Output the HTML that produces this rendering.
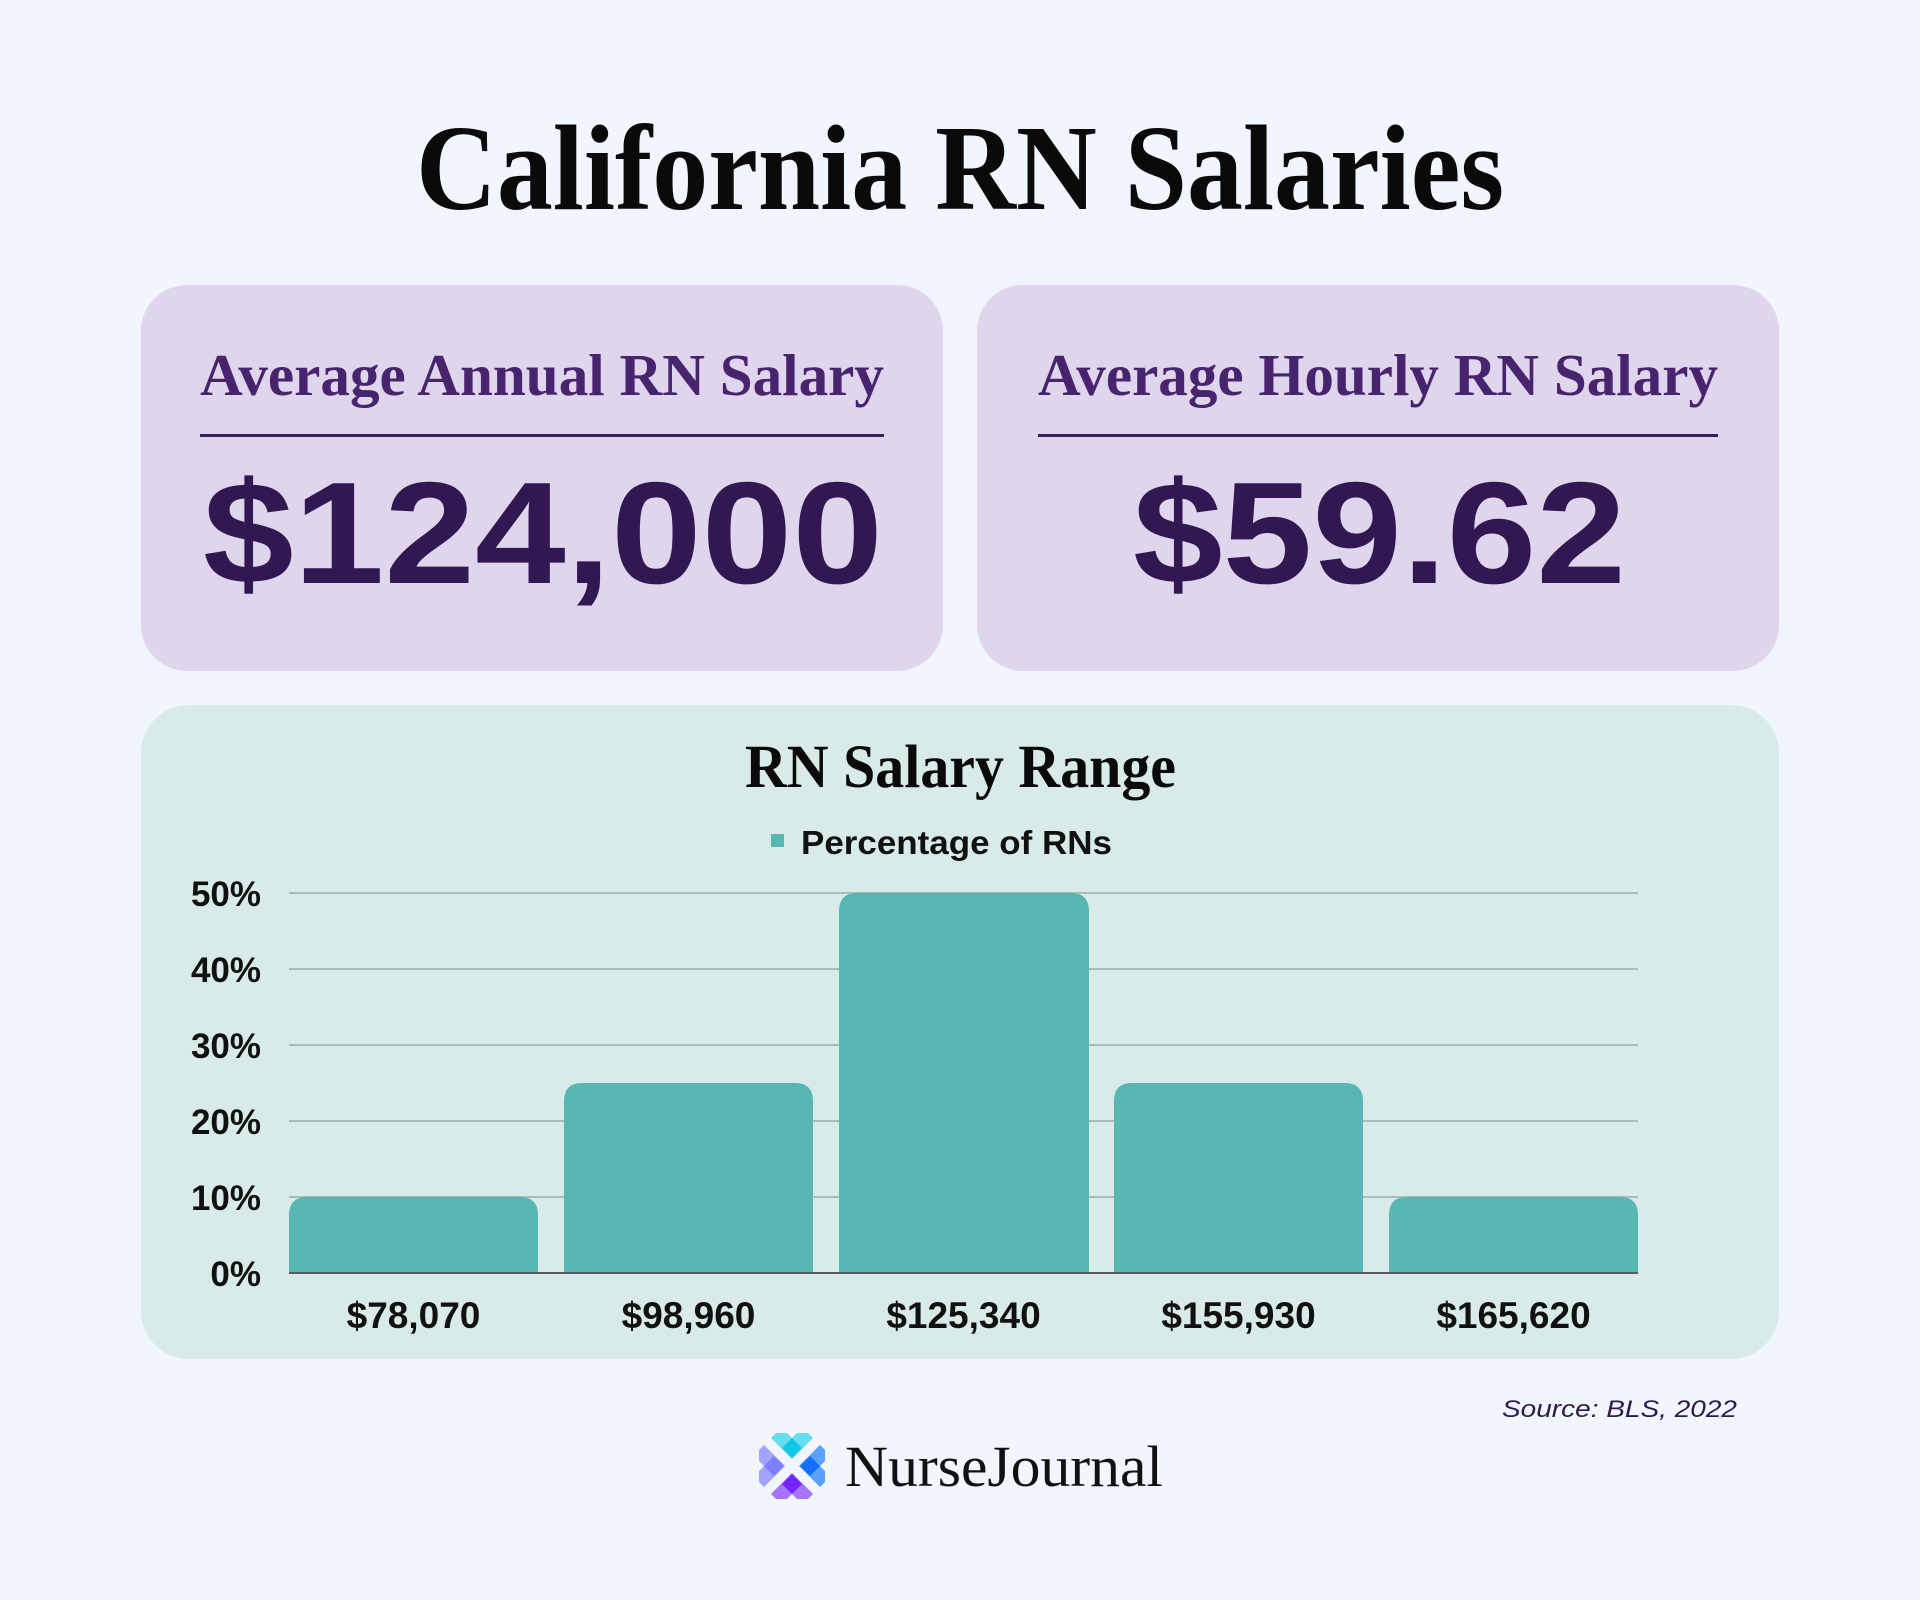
<!DOCTYPE html>
<html>
<head>
<meta charset="utf-8">
<style>
  html, body { margin: 0; padding: 0; background: #F1F5FD; }
  body { width: 1920px; height: 1600px; overflow: hidden; }
  svg { display: block; }
</style>
</head>
<body>
<svg width="1920" height="1600" viewBox="0 0 1920 1600" xmlns="http://www.w3.org/2000/svg">
  <defs>
    <g id="lobeShape">
      <polygon points="-21,-28 -16,-33 -5,-33 0,-28 5,-33 16,-33 21,-28 0,-7" stroke-linejoin="round"/>
    </g>
  </defs>
  <rect x="0" y="0" width="1920" height="1600" fill="#F1F5FD"/>

  <!-- Title -->
  <text x="416" y="209" font-family="'Liberation Serif', serif" font-weight="bold" font-size="122" fill="#0A0A0A" textLength="1088" lengthAdjust="spacingAndGlyphs">California RN Salaries</text>

  <!-- Card 1 -->
  <rect x="141" y="285" width="802" height="386" rx="46" ry="46" fill="#DFD5EC"/>
  <text x="200" y="395" font-family="'Liberation Serif', serif" font-weight="bold" font-size="59" fill="#48246F" textLength="684" lengthAdjust="spacingAndGlyphs">Average Annual RN Salary</text>
  <rect x="200" y="434" width="684" height="3" fill="#3A1D5C"/>
  <text x="203" y="583" font-family="'Liberation Sans', sans-serif" font-weight="bold" font-size="145" fill="#311852" textLength="680" lengthAdjust="spacingAndGlyphs">$124,000</text>

  <!-- Card 2 -->
  <rect x="977" y="285" width="802" height="386" rx="46" ry="46" fill="#DFD5EC"/>
  <text x="1038" y="395" font-family="'Liberation Serif', serif" font-weight="bold" font-size="59" fill="#48246F" textLength="680" lengthAdjust="spacingAndGlyphs">Average Hourly RN Salary</text>
  <rect x="1038" y="434" width="680" height="3" fill="#3A1D5C"/>
  <text x="1133" y="583" font-family="'Liberation Sans', sans-serif" font-weight="bold" font-size="145" fill="#311852" textLength="493" lengthAdjust="spacingAndGlyphs">$59.62</text>

  <!-- Chart panel -->
  <rect x="141" y="705" width="1638" height="654" rx="48" ry="48" fill="#D8EBE8"/>
  <text x="745" y="787" font-family="'Liberation Serif', serif" font-weight="bold" font-size="61" fill="#0A0A0A" textLength="431" lengthAdjust="spacingAndGlyphs">RN Salary Range</text>

  <!-- Legend -->
  <rect x="771" y="834" width="13" height="13" fill="#59B7B3"/>
  <text x="801" y="854" font-family="'Liberation Sans', sans-serif" font-weight="bold" font-size="33" fill="#111111" textLength="311" lengthAdjust="spacingAndGlyphs">Percentage of RNs</text>

  <!-- Gridlines -->
  <g stroke="#A9BCB9" stroke-width="2">
    <line x1="289" y1="893" x2="1638" y2="893"/>
    <line x1="289" y1="969" x2="1638" y2="969"/>
    <line x1="289" y1="1045" x2="1638" y2="1045"/>
    <line x1="289" y1="1121" x2="1638" y2="1121"/>
    <line x1="289" y1="1197" x2="1638" y2="1197"/>
  </g>

  <!-- Y labels -->
  <g font-family="'Liberation Sans', sans-serif" font-weight="bold" font-size="35" fill="#111111" text-anchor="end">
    <text x="261" y="906">50%</text>
    <text x="261" y="982">40%</text>
    <text x="261" y="1058">30%</text>
    <text x="261" y="1134">20%</text>
    <text x="261" y="1210">10%</text>
    <text x="261" y="1286">0%</text>
  </g>

  <!-- Bars -->
  <g fill="#59B7B3">
    <path d="M289,1273 V1215 Q289,1197 307,1197 H520 Q538,1197 538,1215 V1273 Z"/>
    <path d="M564,1273 V1101 Q564,1083 582,1083 H795 Q813,1083 813,1101 V1273 Z"/>
    <path d="M839,1273 V911 Q839,893 857,893 H1071 Q1089,893 1089,911 V1273 Z"/>
    <path d="M1114,1273 V1101 Q1114,1083 1132,1083 H1345 Q1363,1083 1363,1101 V1273 Z"/>
    <path d="M1389,1273 V1215 Q1389,1197 1407,1197 H1620 Q1638,1197 1638,1215 V1273 Z"/>
  </g>
  <line x1="289" y1="1273" x2="1638" y2="1273" stroke="#5A5F5E" stroke-width="2"/>

  <!-- X labels -->
  <g font-family="'Liberation Sans', sans-serif" font-weight="bold" font-size="37" fill="#111111" text-anchor="middle">
    <text x="413.5" y="1328">$78,070</text>
    <text x="688.5" y="1328">$98,960</text>
    <text x="963.5" y="1328">$125,340</text>
    <text x="1238.5" y="1328">$155,930</text>
    <text x="1513.5" y="1328">$165,620</text>
  </g>

  <!-- Source -->
  <text x="1502" y="1417" font-family="'Liberation Sans', sans-serif" font-style="italic" font-size="24" fill="#2F1B4D" textLength="235" lengthAdjust="spacingAndGlyphs">Source: BLS, 2022</text>

  <!-- Logo icon -->
  <g transform="translate(792,1466)">
    <!-- top (cyan) -->
    <g>
      <polygon points="-21,-28 -16,-33 -5,-33 0,-28 5,-33 16,-33 21,-28 0,-7" fill="#66DDF0"/>
      <polygon points="0,-28 10,-18 0,-8 -10,-18" fill="#12C8E8"/>
    </g>
    <!-- left (lavender) -->
    <g transform="rotate(-90)">
      <polygon points="-21,-28 -16,-33 -5,-33 0,-28 5,-33 16,-33 21,-28 0,-7" fill="#A3A3FF"/>
      <polygon points="0,-28 10,-18 0,-8 -10,-18" fill="#7D7DFF"/>
    </g>
    <!-- right (blue) -->
    <g transform="rotate(90)">
      <polygon points="-21,-28 -16,-33 -5,-33 0,-28 5,-33 16,-33 21,-28 0,-7" fill="#5CA0FF"/>
      <polygon points="0,-28 10,-18 0,-8 -10,-18" fill="#1272FF"/>
    </g>
    <!-- bottom (purple) -->
    <g transform="rotate(180)">
      <polygon points="-21,-28 -16,-33 -5,-33 0,-28 5,-33 16,-33 21,-28 0,-7" fill="#A574FF"/>
      <polygon points="0,-28 10,-18 0,-8 -10,-18" fill="#7424FF"/>
    </g>
  </g>

  <!-- Logo text -->
  <text x="845" y="1486" font-family="'Liberation Serif', serif" font-size="58" fill="#111111" textLength="318" lengthAdjust="spacingAndGlyphs">NurseJournal</text>
</svg>
</body>
</html>
